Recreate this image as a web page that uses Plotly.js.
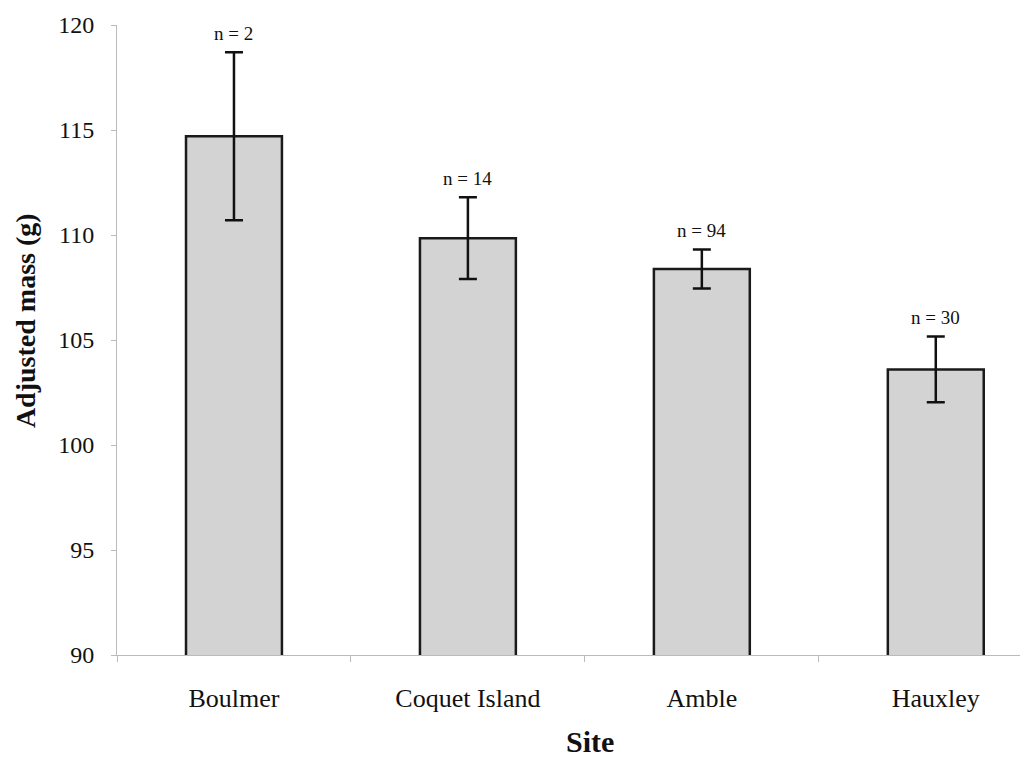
<!DOCTYPE html>
<html>
<head>
<meta charset="utf-8">
<script src="https://cdn.plot.ly/plotly-3.0.1.min.js"></script>
<style>html,body{margin:0;padding:0;background:#fff;}#chart{width:1035px;height:761px;}</style>
</head>
<body>
<div id="chart"></div>
<script>
const sites = ["Boulmer", "Coquet Island", "Amble", "Hauxley"];
const meanMass = [114.7, 109.85, 108.38, 103.6];
const errMass = [4.0, 1.95, 0.93, 1.57];
const sampleLabels = ["n = 2", "n = 14", "n = 94", "n = 30"];
const yTicks = [90, 95, 100, 105, 110, 115, 120];

const serif = "Liberation Serif, Times New Roman, serif";

const trace = {
  type: "bar",
  x: sites,
  y: meanMass,
  base: 0,
  width: 0.41,
  marker: {color: "#d3d3d3", line: {color: "#1a1a1a", width: 2.5}},
  error_y: {type: "data", array: errMass, visible: true, color: "#111", thickness: 2.5, width: 9},
  hoverinfo: "skip"
};

const annotations = sites.map((s, i) => ({
  x: s, y: meanMass[i] + errMass[i], xref: "x", yref: "y",
  text: sampleLabels[i], showarrow: false, yanchor: "bottom", yshift: 6,
  font: {family: serif, size: 19, color: "#111"}
}));

annotations.push({
  xref: "paper", yref: "y", x: 0, y: 105.9, xshift: -92,
  xanchor: "center", yanchor: "middle", textangle: -90, showarrow: false,
  text: "<b>Adjusted mass (g)</b>",
  font: {family: serif, size: 28, color: "#111"}
});

annotations.push({
  xref: "paper", yref: "paper", x: 0.524, y: 0, yshift: -86,
  xanchor: "center", yanchor: "middle", showarrow: false, borderpad: 0,
  text: "<b>Site</b>",
  font: {family: serif, size: 30, color: "#111"}
});

const layout = {
  width: 1035, height: 761,
  margin: {l: 117, r: 15, t: 25, b: 106},
  paper_bgcolor: "#fff", plot_bgcolor: "#fff",
  showlegend: false,
  xaxis: {
    range: [-0.5, 3.36],
    showline: true, linecolor: "#bbb", linewidth: 1,
    ticks: "outside", tickson: "boundaries", ticklen: 6, tickcolor: "#bbb",
    tickfont: {family: serif, size: 26, color: "#111"},
    ticklabelstandoff: 20,
    showgrid: false, zeroline: false
  },
  yaxis: {
    range: [90, 120],
    tickvals: yTicks,
    showline: true, linecolor: "#bbb", linewidth: 1,
    ticks: "outside", ticklen: 5, tickcolor: "#bbb",
    tickfont: {family: serif, size: 24, color: "#111"},
    ticklabelstandoff: 12,
    showgrid: false, zeroline: false
  },
  annotations: annotations
};

Plotly.newPlot("chart", [trace], layout, {displayModeBar: false, staticPlot: true});
</script>
</body>
</html>
